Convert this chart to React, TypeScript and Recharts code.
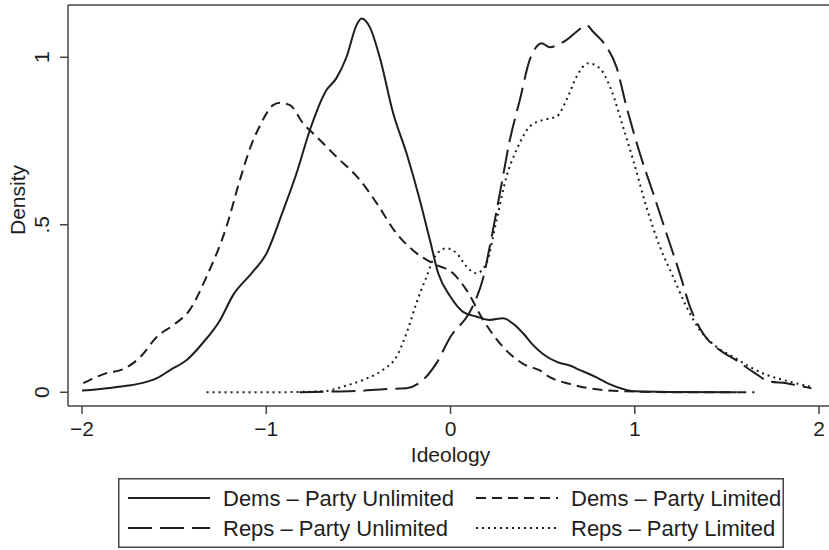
import React from 'react';
import { LineChart, Line, XAxis, YAxis, ReferenceLine, Label } from 'recharts';

const FONT = '"Liberation Sans", Arial, Helvetica, sans-serif';
const INK = '#1e1e1e';
const FRAME = '#444';

const xTicks = [-2, -1, 0, 1, 2];
const xTickLabels = ['\u22122', '\u22121', '0', '1', '2'];
const yTicks = [0, 0.5, 1];
const yTickLabels = ['0', '.5', '1'];

// kernel density estimates, [ideology, density]
const demsUnlimited: [number, number][] = [
  [-2.0, 0.005], [-1.85, 0.013], [-1.75, 0.02], [-1.67, 0.028], [-1.59, 0.043],
  [-1.52, 0.067], [-1.43, 0.097], [-1.34, 0.15], [-1.25, 0.216], [-1.18, 0.29],
  [-1.08, 0.355], [-1.0, 0.413], [-0.91, 0.54], [-0.836, 0.653], [-0.763, 0.783],
  [-0.673, 0.902], [-0.62, 0.937], [-0.565, 1.0], [-0.51, 1.096], [-0.483, 1.116],
  [-0.438, 1.09], [-0.384, 1.0], [-0.311, 0.833], [-0.239, 0.714], [-0.167, 0.575],
  [-0.112, 0.455], [-0.067, 0.356], [0.0, 0.285], [0.068, 0.24], [0.14, 0.226],
  [0.213, 0.216], [0.285, 0.221], [0.35, 0.2], [0.394, 0.176], [0.45, 0.14],
  [0.5, 0.115], [0.58, 0.09], [0.647, 0.08], [0.7, 0.067], [0.79, 0.045],
  [0.86, 0.025], [0.936, 0.01], [1.0, 0.003], [1.2, 0.001], [1.55, 0.0],
];

const demsLimited: [number, number][] = [
  [-1.993, 0.027], [-1.867, 0.057], [-1.776, 0.069], [-1.684, 0.105], [-1.593, 0.166],
  [-1.506, 0.2], [-1.415, 0.246], [-1.325, 0.344], [-1.216, 0.494], [-1.143, 0.634],
  [-1.08, 0.74], [-1.035, 0.795], [-0.963, 0.857], [-0.925, 0.864], [-0.871, 0.857],
  [-0.8, 0.803], [-0.727, 0.763], [-0.619, 0.703], [-0.492, 0.634], [-0.4, 0.564],
  [-0.293, 0.474], [-0.204, 0.424], [-0.094, 0.384], [0.014, 0.355], [0.087, 0.305],
  [0.177, 0.216], [0.268, 0.146], [0.394, 0.085], [0.485, 0.065], [0.539, 0.045],
  [0.647, 0.025], [0.75, 0.012], [0.846, 0.006], [1.0, 0.002], [1.3, 0.0], [1.65, 0.0],
];

const repsUnlimited: [number, number][] = [
  [-0.82, 0.0], [-0.64, 0.002], [-0.5, 0.004], [-0.365, 0.009], [-0.239, 0.012],
  [-0.149, 0.037], [-0.076, 0.087], [0.0, 0.166], [0.1, 0.235], [0.14, 0.28],
  [0.177, 0.34], [0.213, 0.435], [0.268, 0.594], [0.322, 0.753], [0.376, 0.872],
  [0.43, 0.992], [0.467, 1.032], [0.494, 1.042], [0.539, 1.03], [0.575, 1.035],
  [0.63, 1.052], [0.684, 1.076], [0.738, 1.096], [0.774, 1.076], [0.846, 1.032],
  [0.9, 0.972], [0.955, 0.853], [1.027, 0.714], [1.1, 0.594], [1.172, 0.474],
  [1.244, 0.355], [1.3, 0.255], [1.37, 0.176], [1.461, 0.126], [1.55, 0.096],
  [1.642, 0.061], [1.732, 0.032], [1.823, 0.027], [1.895, 0.019], [1.959, 0.012],
];

const repsLimited: [number, number][] = [
  [-1.324, 0.0], [-1.0, 0.0], [-0.69, 0.003], [-0.583, 0.017], [-0.474, 0.037],
  [-0.366, 0.067], [-0.293, 0.106], [-0.239, 0.176], [-0.185, 0.266], [-0.13, 0.345],
  [-0.085, 0.405], [-0.022, 0.43], [0.033, 0.415], [0.087, 0.375], [0.14, 0.355],
  [0.195, 0.385], [0.25, 0.514], [0.304, 0.644], [0.358, 0.723], [0.43, 0.793],
  [0.502, 0.813], [0.575, 0.823], [0.63, 0.873], [0.684, 0.942], [0.747, 0.982],
  [0.81, 0.967], [0.873, 0.902], [0.936, 0.793], [0.991, 0.694], [1.063, 0.554],
  [1.136, 0.435], [1.208, 0.345], [1.28, 0.256], [1.353, 0.186], [1.443, 0.136],
  [1.533, 0.106], [1.624, 0.076], [1.715, 0.052], [1.805, 0.037], [1.913, 0.022],
  [1.95, 0.018],
];

const seriesNames = [
  'Dems \u2013 Party Unlimited',
  'Dems \u2013 Party Limited',
  'Reps \u2013 Party Unlimited',
  'Reps \u2013 Party Limited',
];

const series = [
  { name: seriesNames[0], points: demsUnlimited, dash: undefined },
  { name: seriesNames[1], points: demsLimited, dash: '10 6' },
  { name: seriesNames[2], points: repsUnlimited, dash: '24 8' },
  { name: seriesNames[3], points: repsLimited, dash: '2 4' },
];

const toRows = (pts: [number, number][]) => pts.map(([x, y]) => ({ x, y }));

const X_DOMAIN: [number, number] = [-2.076, 2.076];
const Y_DOMAIN: [number, number] = [-0.041, 1.156];

const XTick = (props: any) => {
  const { x, y, payload } = props;
  const i = xTicks.indexOf(payload.value);
  return (
    <text x={x} y={y + 20} textAnchor="middle" fontSize={21} fontFamily={FONT} fill={INK}>
      {xTickLabels[i]}
    </text>
  );
};

const YTick = (props: any) => {
  const { x, y, payload } = props;
  const i = yTicks.indexOf(payload.value);
  const cx = x - 16;
  return (
    <text
      x={cx}
      y={y}
      transform={`rotate(-90, ${cx}, ${y})`}
      textAnchor="middle"
      dominantBaseline="central"
      fontSize={21}
      fontFamily={FONT}
      fill={INK}
    >
      {yTickLabels[i]}
    </text>
  );
};

const XTitle = (props: any) => {
  const vb = props.viewBox;
  return (
    <text x={vb.x + vb.width / 2} y={462} textAnchor="middle" fontSize={21} fontFamily={FONT} fill={INK}>
      Ideology
    </text>
  );
};

const YTitle = () => (
  <text
    x={17}
    y={200}
    transform="rotate(-90, 17, 200)"
    textAnchor="middle"
    dominantBaseline="central"
    fontSize={21}
    fontFamily={FONT}
    fill={INK}
  >
    Density
  </text>
);

// two-column key box under the plot
const LegendBox = () => {
  const w = 666;
  const h = 70;
  const cols = [10, 358];
  const rows = [20, 50];
  return (
    <svg width={w} height={h} style={{ position: 'absolute', left: 118, top: 478 }}>
      <rect x={0.75} y={0.75} width={w - 1.5} height={h - 1.5} fill="#fff" stroke={FRAME} strokeWidth={1.5} />
      {series.map((s, i) => {
        const cx = cols[i % 2];
        const cy = rows[Math.floor(i / 2)];
        return (
          <g key={s.name}>
            <line x1={cx} x2={cx + 82} y1={cy} y2={cy} stroke={INK} strokeWidth={2} strokeDasharray={s.dash} />
            <text x={cx + 95} y={cy} dominantBaseline="central" fontSize={22} fontFamily={FONT} fill={INK}>
              {s.name}
            </text>
          </g>
        );
      })}
    </svg>
  );
};

export default function App() {
  return (
    <div
      style={{
        position: 'absolute',
        left: 0,
        top: 0,
        width: 829,
        height: 550,
        overflow: 'hidden',
        background: '#fff',
      }}
    >
      <LineChart width={840} height={550} margin={{ top: 5, right: 7, bottom: 0, left: 0 }}>
        <XAxis
          type="number"
          dataKey="x"
          domain={X_DOMAIN}
          ticks={xTicks}
          interval={0}
          height={144}
          tickSize={8}
          axisLine={{ stroke: FRAME, strokeWidth: 1.5 }}
          tickLine={{ stroke: FRAME, strokeWidth: 1.5 }}
          tick={XTick}
        >
          <Label content={XTitle} />
        </XAxis>
        <YAxis
          type="number"
          domain={Y_DOMAIN}
          ticks={yTicks}
          interval={0}
          width={68}
          tickSize={8}
          axisLine={{ stroke: FRAME, strokeWidth: 1.5 }}
          tickLine={{ stroke: FRAME, strokeWidth: 1.5 }}
          tick={YTick}
        >
          <Label content={YTitle} />
        </YAxis>
        <ReferenceLine y={Y_DOMAIN[1]} stroke={FRAME} strokeWidth={1.5} />
        <ReferenceLine x={X_DOMAIN[1]} stroke={FRAME} strokeWidth={1.5} />
        {series.map((s) => (
          <Line
            key={s.name}
            name={s.name}
            data={toRows(s.points)}
            dataKey="y"
            type="monotone"
            stroke={INK}
            strokeWidth={2}
            strokeDasharray={s.dash}
            dot={false}
            activeDot={false}
            isAnimationActive={false}
          />
        ))}
      </LineChart>
      <LegendBox />
    </div>
  );
}
